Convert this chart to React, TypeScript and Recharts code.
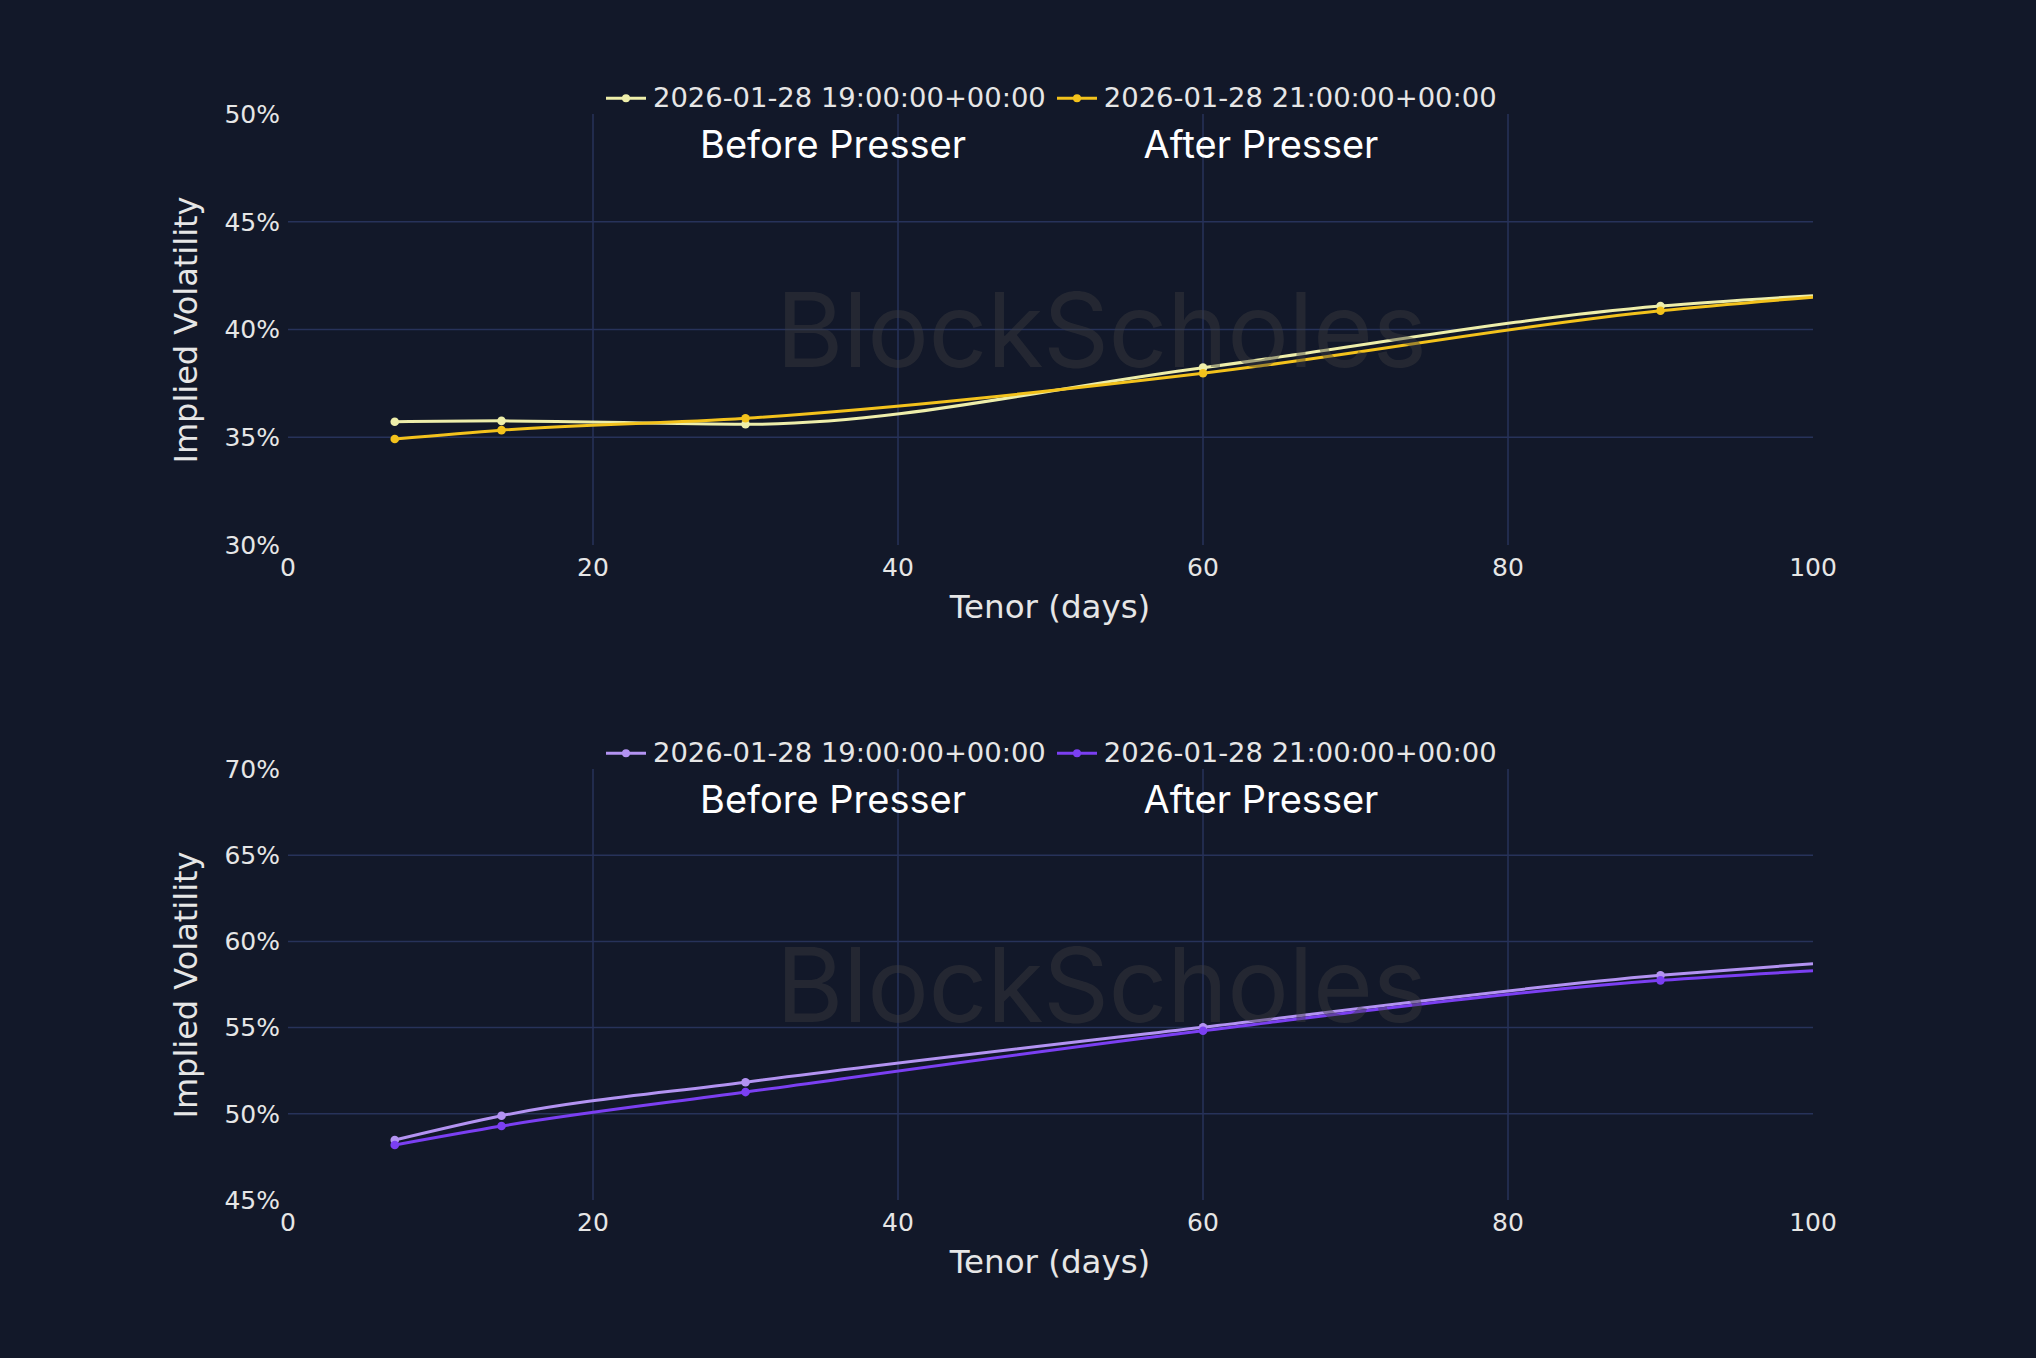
import React from "react";
import { LineChart, Line, XAxis, YAxis, ReferenceLine } from "recharts";

// ---- data ----
const tenors = [7, 14, 30, 60, 90, 100];
const btcBefore = [35.72, 35.76, 35.6, 38.23, 41.09, 41.57];
const btcAfter = [34.92, 35.33, 35.88, 37.97, 40.87, 41.5];
const ethBefore = [48.48, 49.89, 51.83, 55.02, 58.03, 58.71];
const ethAfter = [48.19, 49.29, 51.26, 54.82, 57.74, 58.3];

const xTicks = [0, 20, 40, 60, 80, 100];
const btcYTicks = [30, 35, 40, 45, 50];
const ethYTicks = [45, 50, 55, 60, 65, 70];

const seriesNames = ["2026-01-28 19:00:00+00:00", "2026-01-28 21:00:00+00:00"];
const annotations = ["Before Presser", "After Presser"];

const btcColors = ["#eeeeaa", "#f3c21c"];
const ethColors = ["#b393f2", "#7b3ff2"];

// ---- style ----
const BG = "#121829";
const GRID = "#27325a";
const TEXT = "#e6e6e6";
const TICK_FONT = "DejaVu Sans";
const W = 2036;
const PANEL_H = 679;

const buildRows = (a: number[], b: number[]) =>
  tenors.map((t, i) => ({ tenor: t, before: a[i], after: b[i] }));

const panels = [
  {
    id: "btc",
    rows: buildRows(btcBefore, btcAfter),
    yTicks: btcYTicks,
    colors: btcColors,
    top: 0,
    margin: { top: 114, right: 223, bottom: 94, left: 208 },
  },
  {
    id: "eth",
    rows: buildRows(ethBefore, ethAfter),
    yTicks: ethYTicks,
    colors: ethColors,
    top: PANEL_H,
    margin: { top: 90, right: 223, bottom: 118, left: 208 },
  },
];

const makeDot = (color: string) => (props: any) => {
  const { cx, cy, payload, index } = props;
  if (payload.tenor >= 100 || cx == null) return <g key={`d${index}`} />;
  return <circle key={`d${index}`} cx={cx} cy={cy} r={4.3} fill={color} stroke="none" />;
};

const Abs = ({ x, y, style, children }: any) => (
  <div
    style={{
      position: "absolute",
      left: x,
      top: y,
      transform: "translate(-50%, -50%)",
      whiteSpace: "nowrap",
      lineHeight: 1,
      pointerEvents: "none",
      ...style,
    }}
  >
    {children}
  </div>
);

const LegendBox = ({ colors, y }: { colors: string[]; y: number }) => (
  <div
    style={{
      position: "absolute",
      left: 606,
      top: y,
      transform: "translateY(-50%)",
      display: "flex",
      alignItems: "center",
      fontFamily: TICK_FONT,
      fontSize: 27.4,
      color: TEXT,
      whiteSpace: "nowrap",
      lineHeight: 1,
    }}
  >
    {seriesNames.map((n, i) => (
      <div key={n} style={{ display: "flex", alignItems: "center", marginRight: 11 }}>
        <svg width={40} height={20} style={{ display: "block" }}>
          <line x1={0} y1={10} x2={40} y2={10} stroke={colors[i]} strokeWidth={3} />
          <circle cx={20} cy={10} r={4} fill={colors[i]} />
        </svg>
        <span style={{ marginLeft: 7 }}>{n}</span>
      </div>
    ))}
  </div>
);

const Panel = ({ p }: any) => {
  const innerY = p.yTicks.slice(1, -1);
  const innerX = xTicks.slice(1, -1);
  const plotTop = p.margin.top;
  const plotBottom = PANEL_H - p.margin.bottom - 40;
  const plotMidY = (plotTop + plotBottom) / 2;
  return (
    <div style={{ position: "absolute", left: 0, top: p.top, width: W, height: PANEL_H }}>
      <LineChart width={W} height={PANEL_H} data={p.rows} margin={p.margin}>
        <XAxis
          dataKey="tenor"
          type="number"
          domain={[0, 100]}
          ticks={xTicks}
          allowDataOverflow
          axisLine={false}
          tickLine={false}
          tickSize={0}
          tickMargin={13}
          height={40}
          tick={{ fill: TEXT, fontSize: 25, fontFamily: TICK_FONT }}
          interval={0}
        />
        <YAxis
          type="number"
          domain={[p.yTicks[0], p.yTicks[p.yTicks.length - 1]]}
          ticks={p.yTicks}
          allowDataOverflow
          axisLine={false}
          tickLine={false}
          tickSize={0}
          tickMargin={8}
          width={80}
          interval={0}
          tickFormatter={(v: number) => `${v}%`}
          tick={{ fill: TEXT, fontSize: 25, fontFamily: TICK_FONT }}
        />
        {innerY.map((v: number) => (
          <ReferenceLine key={`gy${v}`} y={v} stroke={GRID} strokeWidth={1.5} />
        ))}
        {innerX.map((v: number) => (
          <ReferenceLine key={`gx${v}`} x={v} stroke={GRID} strokeWidth={1.5} />
        ))}
        <Line
          dataKey="before"
          name={seriesNames[0]}
          type="monotone"
          stroke={p.colors[0]}
          strokeWidth={3}
          dot={makeDot(p.colors[0])}
          activeDot={false}
          isAnimationActive={false}
        />
        <Line
          dataKey="after"
          name={seriesNames[1]}
          type="monotone"
          stroke={p.colors[1]}
          strokeWidth={3}
          dot={makeDot(p.colors[1])}
          activeDot={false}
          isAnimationActive={false}
        />
      </LineChart>
      {/* watermark */}
      <div
        style={{
          position: "absolute",
          left: 776,
          top: plotTop + 164,
          fontFamily: "Inter",
          fontSize: 103,
          lineHeight: 1,
          color: "rgba(62,62,64,0.42)",
          letterSpacing: -0.5,
          whiteSpace: "nowrap",
          pointerEvents: "none",
        }}
      >
        BlockScholes
      </div>
      <LegendBox colors={p.colors} y={plotTop - 16} />
      <Abs x={833} y={plotTop + 30} style={{ fontFamily: "Inter", fontSize: 38, color: "#ffffff" }}>
        {annotations[0]}
      </Abs>
      <Abs x={1261} y={plotTop + 30} style={{ fontFamily: "Inter", fontSize: 38, color: "#ffffff" }}>
        {annotations[1]}
      </Abs>
      <Abs x={1050} y={plotBottom + 62} style={{ fontFamily: TICK_FONT, fontSize: 32.5, color: TEXT }}>
        Tenor (days)
      </Abs>
      <Abs
        x={186}
        y={plotMidY}
        style={{ fontFamily: TICK_FONT, fontSize: 32, color: TEXT, transform: "translate(-50%, -50%) rotate(-90deg)" }}
      >
        Implied Volatility
      </Abs>
    </div>
  );
};

export default function App() {
  return (
    <div
      style={{
        position: "absolute",
        left: 0,
        top: 0,
        width: W,
        height: 1358,
        background: BG,
        overflow: "hidden",
      }}
    >
      {panels.map((p) => (
        <Panel key={p.id} p={p} />
      ))}
    </div>
  );
}
